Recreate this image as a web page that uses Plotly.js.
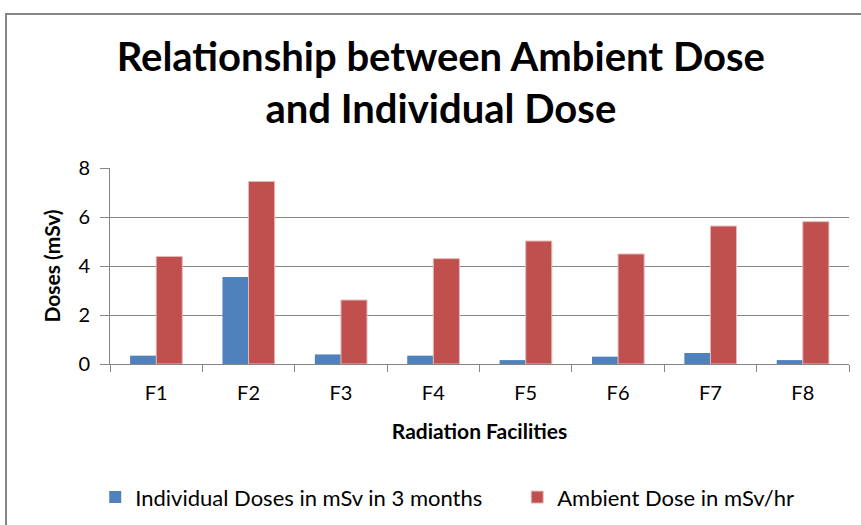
<!DOCTYPE html>
<html><head><meta charset="utf-8">
<script src="https://cdn.plot.ly/plotly-3.0.1.min.js"></script>
<style>
body{margin:0;padding:0;background:#fff;overflow:hidden;}
#frame{position:absolute;left:5px;top:13px;width:900px;height:600px;border:2px solid #868686;box-sizing:border-box;}
#chart{position:absolute;left:0;top:0;width:861px;height:525px;}
</style></head>
<body>
<div id="frame"></div>
<div id="chart"></div>
<script>
const categories = ["F1","F2","F3","F4","F5","F6","F7","F8"];
const individualDoses = [0.34, 3.55, 0.39, 0.34, 0.16, 0.30, 0.45, 0.16];
const ambientDoses = [4.39, 7.45, 2.61, 4.30, 5.02, 4.49, 5.63, 5.81];
const seriesNames = ["Individual Doses in mSv in 3 months", "Ambient Dose in mSv/hr"];
const yTicks = [0, 2, 4, 6, 8];

const fontFam = "Lato, 'Open Sans', sans-serif";
const traces = [
  {type:'bar', x:categories, y:individualDoses, name:seriesNames[0], legend:'legend',
   marker:{color:'#4F81BD', line:{width:0}}},
  {type:'bar', x:categories, y:ambientDoses, name:seriesNames[1], legend:'legend2',
   marker:{color:'#C0504D', line:{color:'#E6B9B8', width:1}}}
];
const legFont = {family:fontFam, size:22, color:'#000'};
const layout = {
  width:861, height:525,
  paper_bgcolor:'rgba(0,0,0,0)', plot_bgcolor:'rgba(0,0,0,0)',
  margin:{l:110, r:12, t:168, b:161, autoexpand:false},
  title:{text:'<b>Relationship between Ambient Dose<br>and Individual Dose</b>',
         font:{family:fontFam, size:40, color:'#000'}, x:0.512, xanchor:'center', y:0.864, yanchor:'middle'},
  barmode:'group', bargap:0.435, bargroupgap:0,
  showlegend:true,
  legend:{orientation:'h', x:-0.02, xanchor:'left', y:-0.68, yanchor:'middle',
          font:legFont, itemwidth:30, bgcolor:'rgba(0,0,0,0)'},
  legend2:{orientation:'h', x:0.551, xanchor:'left', y:-0.68, yanchor:'middle',
          font:legFont, itemwidth:30, bgcolor:'rgba(0,0,0,0)'},
  xaxis:{type:'category', showline:true, linecolor:'#868686', linewidth:1,
         ticks:'outside', tickson:'boundaries', ticklen:7, tickcolor:'#868686',
         ticklabelstandoff:11,
         tickfont:{family:fontFam, size:20, color:'#000'},
         title:{text:'<b>Radiation Facilities</b>', font:{family:fontFam, size:21, color:'#000'}, standoff:21}},
  yaxis:{range:[0,8], tickvals:yTicks, showline:true, linecolor:'#868686', linewidth:1,
         ticks:'outside', ticklen:9, tickcolor:'#868686', gridcolor:'#868686', gridwidth:1,
         zeroline:false, ticklabelstandoff:6,
         tickfont:{family:fontFam, size:20, color:'#000'},
         title:{text:'<b>Doses (mSv)</b>', font:{family:fontFam, size:21, color:'#000'}, standoff:12}}
};
Plotly.newPlot('chart', traces, layout, {displayModeBar:false, staticPlot:true});
</script>
</body></html>
